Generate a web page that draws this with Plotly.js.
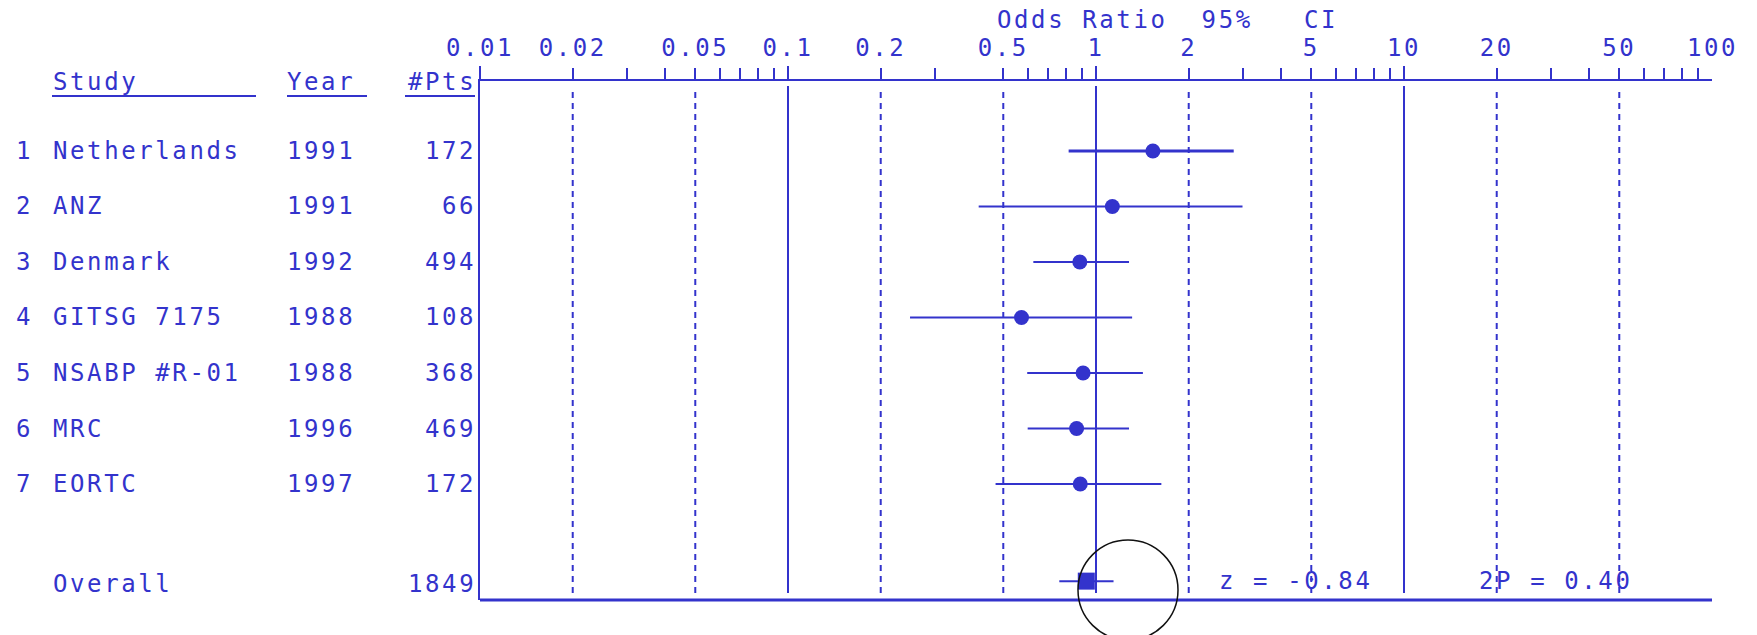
<!DOCTYPE html>
<html>
<head>
<meta charset="utf-8">
<script src="https://cdn.plot.ly/plotly-3.0.1.min.js"></script>
<style>
  html, body { margin: 0; padding: 0; background: #ffffff; }
  #chart { width: 1757px; height: 635px; }
  text { letter-spacing: 2.6px; }
</style>
</head>
<body>
<div id="chart"></div>
<script>
// Trial-level results of the meta-analysis
const studies = ['Netherlands', 'ANZ', 'Denmark', 'GITSG 7175', 'NSABP #R-01', 'MRC', 'EORTC'];
const years = ['1991', '1991', '1992', '1988', '1988', '1996', '1997'];
const patients = [172, 66, 494, 108, 368, 469, 172];
const oddsRatio = [1.53, 1.13, 0.886, 0.573, 0.908, 0.865, 0.889];
const ciLow = [0.815, 0.416, 0.626, 0.249, 0.598, 0.600, 0.472];
const ciHigh = [2.80, 2.99, 1.28, 1.31, 1.42, 1.28, 1.63];

// Pooled result
const overallLabel = 'Overall';
const overallPatients = 1849;
const overallOR = 0.93;
const overallLow = 0.76;
const overallHigh = 1.14;
const zLabel = 'z = -0.84';
const pLabel = '2P = 0.40';

// Odds-ratio scale
const labelValues = [0.01, 0.02, 0.05, 0.1, 0.2, 0.5, 1, 2, 5, 10, 20, 50];
const labelTexts = ['0.01', '0.02', '0.05', '0.1', '0.2', '0.5', '1', '2', '5', '10', '20', '50'];
const endValue = 100;
const endText = '100';
const minorValues = [0.03, 0.04, 0.06, 0.07, 0.08, 0.09, 0.3, 0.6, 0.7, 0.8, 0.9,
                     3, 4, 6, 7, 8, 9, 30, 40, 60, 70, 80, 90];
const majorValues = [0.01, 0.1, 1, 10];
const solidRefs = [0.1, 1, 10];
const dashedRefs = [0.02, 0.05, 0.2, 0.5, 2, 5, 20, 50];

const BLUE = 'rgb(51,51,204)';
const FONT = 'DejaVu Sans Mono, Liberation Mono, monospace';
const W = 1757, H = 635;
const M = { l: 480, r: 45, t: 81, b: 35 };
const plotW = W - M.l - M.r, plotH = H - M.t - M.b;
const pxX = px => (px - M.l) / plotW;
const pxY = py => (H - M.b - py) / plotH;

const rows = studies.map((_, i) => i + 1);
const overallRow = studies.length + 1.75;

const traces = [];
studies.forEach((s, i) => {
  traces.push({
    x: [ciLow[i], ciHigh[i]], y: [rows[i], rows[i]],
    mode: 'lines', line: { color: BLUE, width: i === 0 ? 3 : 2 },
    hoverinfo: 'skip', showlegend: false
  });
});
traces.push({
  x: oddsRatio, y: rows, mode: 'markers',
  marker: { symbol: 'circle', size: 15, color: BLUE },
  showlegend: false
});
traces.push({
  x: [overallLow, overallHigh], y: [overallRow, overallRow],
  mode: 'lines', line: { color: BLUE, width: 2 }, showlegend: false
});
traces.push({
  x: [overallOR], y: [overallRow], mode: 'markers',
  marker: { symbol: 'square', size: 17, color: BLUE }, showlegend: false
});
// carrier for the long decade ticks
traces.push({ x: [1], y: [overallRow], xaxis: 'x2', mode: 'markers',
  marker: { opacity: 0 }, hoverinfo: 'skip', showlegend: false });

const shapes = [];
solidRefs.forEach(v => shapes.push({
  type: 'line', xref: 'x', yref: 'paper', x0: v, x1: v,
  y0: pxY(593), y1: pxY(86), line: { color: BLUE, width: 2 }
}));
dashedRefs.forEach(v => shapes.push({
  type: 'line', xref: 'x', yref: 'paper', x0: v, x1: v,
  y0: pxY(593), y1: pxY(88), line: { color: BLUE, width: 2, dash: '6px,5px' }
}));
// bottom rule
shapes.push({ type: 'line', xref: 'paper', yref: 'paper', x0: 0, x1: 1, y0: 0, y1: 0,
  line: { color: BLUE, width: 3 } });
// column header underlines
[[52, 256], [287, 367], [405, 475]].forEach(([a, b]) => shapes.push({
  type: 'line', xref: 'paper', yref: 'paper', x0: pxX(a), x1: pxX(b),
  y0: pxY(96), y1: pxY(96), line: { color: BLUE, width: 2 }
}));
// highlight ring around the pooled estimate
shapes.push({ type: 'circle', xref: 'paper', yref: 'paper',
  x0: pxX(1078), x1: pxX(1178), y0: pxY(640), y1: pxY(540),
  line: { color: '#111111', width: 1.5 } });

const font = { family: FONT, size: 24, color: BLUE };
const ann = [];
function addText(text, x, y, xanchor, yref) {
  ann.push({ text: text, xref: 'paper', yref: yref || 'y', x: x, y: y,
    xanchor: xanchor, yanchor: 'middle', showarrow: false, font: font });
}
studies.forEach((s, i) => {
  addText(String(i + 1), pxX(14), rows[i], 'left');
  addText(s, pxX(51), rows[i], 'left');
  addText(years[i], pxX(285), rows[i], 'left');
  addText(String(patients[i]), pxX(478), rows[i], 'right');
});
addText(overallLabel, pxX(51), overallRow + 0.06, 'left');
addText(String(overallPatients), pxX(478), overallRow + 0.06, 'right');
addText('Study', pxX(51), pxY(82), 'left', 'paper');
addText('Year', pxX(285), pxY(82), 'left', 'paper');
addText('#Pts', pxX(478), pxY(82), 'right', 'paper');
addText(zLabel, pxX(1217), overallRow, 'left');
addText(pLabel, pxX(1477), overallRow, 'left');
addText('Odds Ratio\u00A0\u00A095%\u00A0\u00A0\u00A0CI', pxX(995), pxY(20), 'left', 'paper');
ann.push({ text: endText, xref: 'x', yref: 'paper', x: Math.log10(endValue), y: pxY(48),
  xanchor: 'center', yanchor: 'middle', showarrow: false, font: font });

const layout = {
  width: W, height: H,
  margin: M,
  paper_bgcolor: '#ffffff', plot_bgcolor: '#ffffff',
  showlegend: false,
  xaxis: {
    type: 'log', range: [-2, 2], side: 'top',
    showline: true, linecolor: BLUE, linewidth: 2.5,
    showgrid: false, zeroline: false,
    tickmode: 'array',
    tickvals: labelValues.concat(minorValues),
    ticktext: labelTexts.concat(minorValues.map(() => '')),
    ticks: 'outside', ticklen: 11, tickwidth: 2, tickcolor: BLUE,
    tickfont: font, ticklabelstandoff: 2
  },
  xaxis2: {
    type: 'log', range: [-2, 2], side: 'top', overlaying: 'x', anchor: 'y',
    showline: false, showgrid: false, zeroline: false,
    tickmode: 'array', tickvals: majorValues,
    ticks: 'outside', ticklen: 14, tickwidth: 2, tickcolor: BLUE,
    showticklabels: false
  },
  yaxis: {
    range: [9.09, -0.261], showline: true, linecolor: BLUE, linewidth: 2.5,
    showgrid: false, zeroline: false, showticklabels: false, ticks: ''
  },
  shapes: shapes,
  annotations: ann
};

Plotly.newPlot('chart', traces, layout, { displayModeBar: false, staticPlot: true });
</script>
</body>
</html>
